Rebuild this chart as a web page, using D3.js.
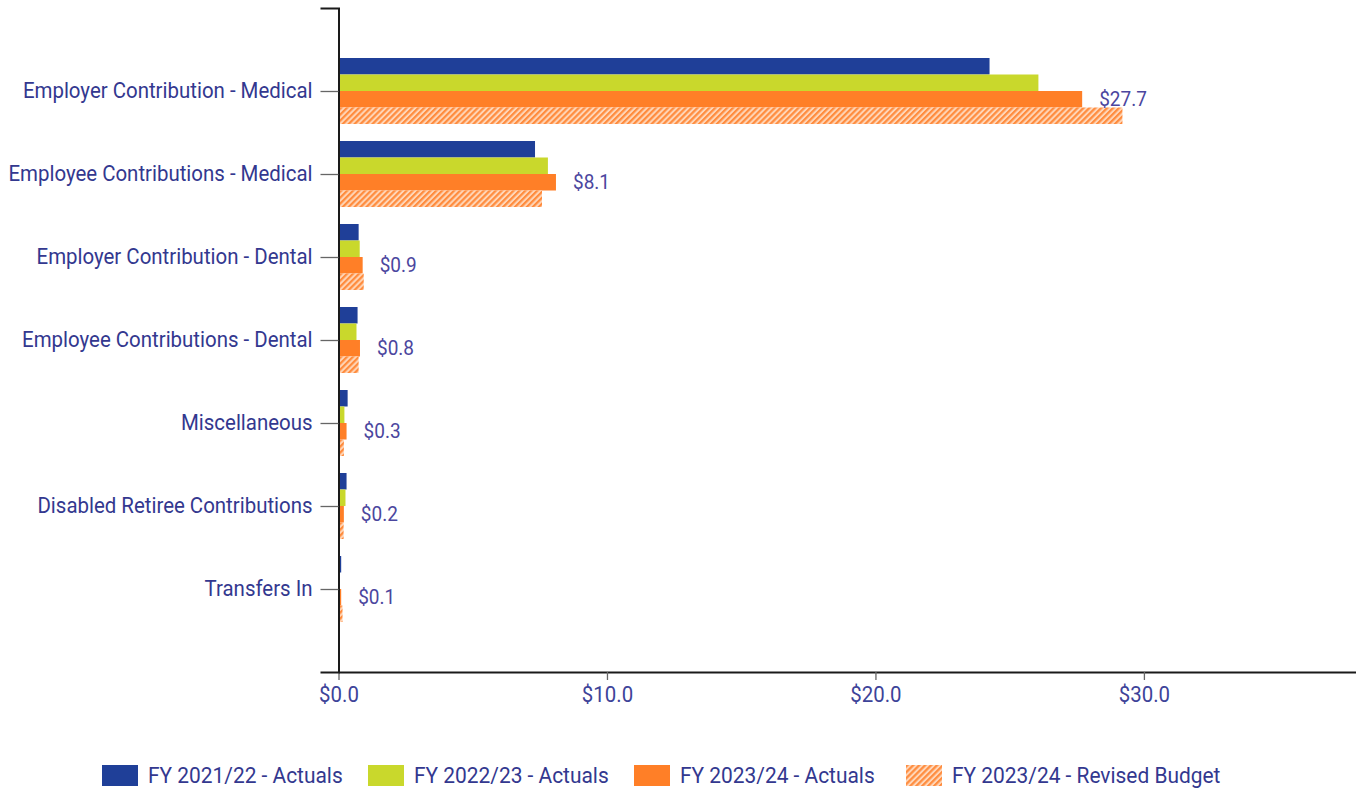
<!DOCTYPE html>
<html>
<head>
<meta charset="utf-8">
<script src="https://cdn.jsdelivr.net/npm/d3@7"></script>
<style>
  html, body { margin: 0; padding: 0; background: #fff; }
  svg { display: block; }
  text { font-family: Roboto, "Liberation Sans", sans-serif; }
</style>
</head>
<body>
<svg id="chart" width="1356" height="788"></svg>
<script>
// Revenue categories (millions of dollars)
const categories = [
  "Employer Contribution - Medical",
  "Employee Contributions - Medical",
  "Employer Contribution - Dental",
  "Employee Contributions - Dental",
  "Miscellaneous",
  "Disabled Retiree Contributions",
  "Transfers In"
];
const seriesNames = [
  "FY 2021/22 - Actuals",
  "FY 2022/23 - Actuals",
  "FY 2023/24 - Actuals",
  "FY 2023/24 - Revised Budget"
];
const fy2122Actuals = [24.25, 7.32, 0.75, 0.71, 0.34, 0.30, 0.10];
const fy2223Actuals = [26.07, 7.80, 0.79, 0.67, 0.22, 0.26, 0.00];
const fy2324Actuals = [27.7, 8.1, 0.9, 0.8, 0.3, 0.2, 0.1];
const fy2324Budget  = [29.20, 7.58, 0.94, 0.75, 0.20, 0.19, 0.15];
const xTicks = [0, 10, 20, 30];
const xMax = 37.9;

const seriesValues = [fy2122Actuals, fy2223Actuals, fy2324Actuals, fy2324Budget];

const svg = d3.select("#chart");
const defs = svg.append("defs");

// diagonal hatch for the revised budget
const pat = defs.append("pattern")
  .attr("id", "hatch")
  .attr("patternUnits", "userSpaceOnUse")
  .attr("width", 4.2).attr("height", 4.2)
  .attr("patternTransform", "rotate(45)");
pat.append("rect").attr("width", 4.2).attr("height", 4.2).attr("fill", "#ffd6b8");
pat.append("rect").attr("width", 2.2).attr("height", 4.2).attr("fill", "#ff8c3e");

const colors = ["#1f3f98", "#c9d82c", "#ff7f27", "url(#hatch)"];

const x = d3.scaleLinear().domain([0, xMax]).range([338.5, 1356]);
const y = d3.scalePoint().domain(categories).range([8, 672]).padding(1);
const sub = d3.scaleBand().domain(d3.range(seriesNames.length)).range([-33, 33]).padding(0);

// bars
const groups = svg.append("g").selectAll("g")
  .data(categories)
  .join("g")
  .attr("transform", d => `translate(0,${y(d)})`);

groups.selectAll("rect")
  .data((d, i) => seriesValues.map((vals, s) => ({ s, v: vals[i] })))
  .join("rect")
  .attr("x", x(0))
  .attr("y", d => sub(d.s))
  .attr("height", sub.bandwidth())
  .attr("width", d => x(d.v) - x(0))
  .attr("fill", d => colors[d.s]);

// value labels for FY 2023/24 actuals
groups.append("text")
  .attr("x", (d, i) => x(fy2324Actuals[i]) + 17)
  .attr("y", sub(2) + sub.bandwidth() / 2)
  .attr("dy", "0.35em")
  .attr("fill", "#4b469e")
  .attr("font-size", 20)
  .text((d, i) => "$" + fy2324Actuals[i].toFixed(1));

// y axis
const yAxis = svg.append("g")
  .attr("transform", `translate(${x(0)},0)`)
  .call(d3.axisLeft(y).tickSize(18).tickPadding(8));
yAxis.select(".domain").attr("stroke", "#1a1a1a").attr("stroke-width", 2);
yAxis.selectAll(".tick line").attr("stroke", "#666").attr("stroke-width", 1.3);
yAxis.selectAll(".tick text")
  .attr("fill", "#33388f")
  .attr("font-size", 21.5);

// x axis
const xAxis = svg.append("g")
  .attr("transform", `translate(0,672)`)
  .call(d3.axisBottom(x).tickValues(xTicks).tickSize(8).tickSizeOuter(0).tickPadding(7)
    .tickFormat(d => "$" + d.toFixed(1)));
xAxis.select(".domain").attr("stroke", "#1a1a1a").attr("stroke-width", 2.2);
xAxis.selectAll(".tick line").attr("stroke", "#666").attr("stroke-width", 1.3);
xAxis.selectAll(".tick text")
  .attr("fill", "#3d4399")
  .attr("font-size", 21.5);

// redraw y domain on top so its outer ticks sit over the x axis line
yAxis.raise();

// legend
const legendX = [102, 368, 634, 906];
const legend = svg.append("g").selectAll("g")
  .data(seriesNames)
  .join("g")
  .attr("transform", (d, i) => `translate(${legendX[i]},765)`);
legend.append("rect")
  .attr("width", 36).attr("height", 21)
  .attr("fill", (d, i) => colors[i]);
legend.append("text")
  .attr("x", 46).attr("y", 10.5)
  .attr("dy", "0.35em")
  .attr("fill", "#33388f")
  .attr("font-size", 22)
  .text(d => d);

// narrow the type slightly for a condensed look
svg.selectAll("text").each(function () {
  const w = this.getComputedTextLength();
  d3.select(this).attr("textLength", w * 0.95).attr("lengthAdjust", "spacingAndGlyphs");
});
</script>
</body>
</html>
